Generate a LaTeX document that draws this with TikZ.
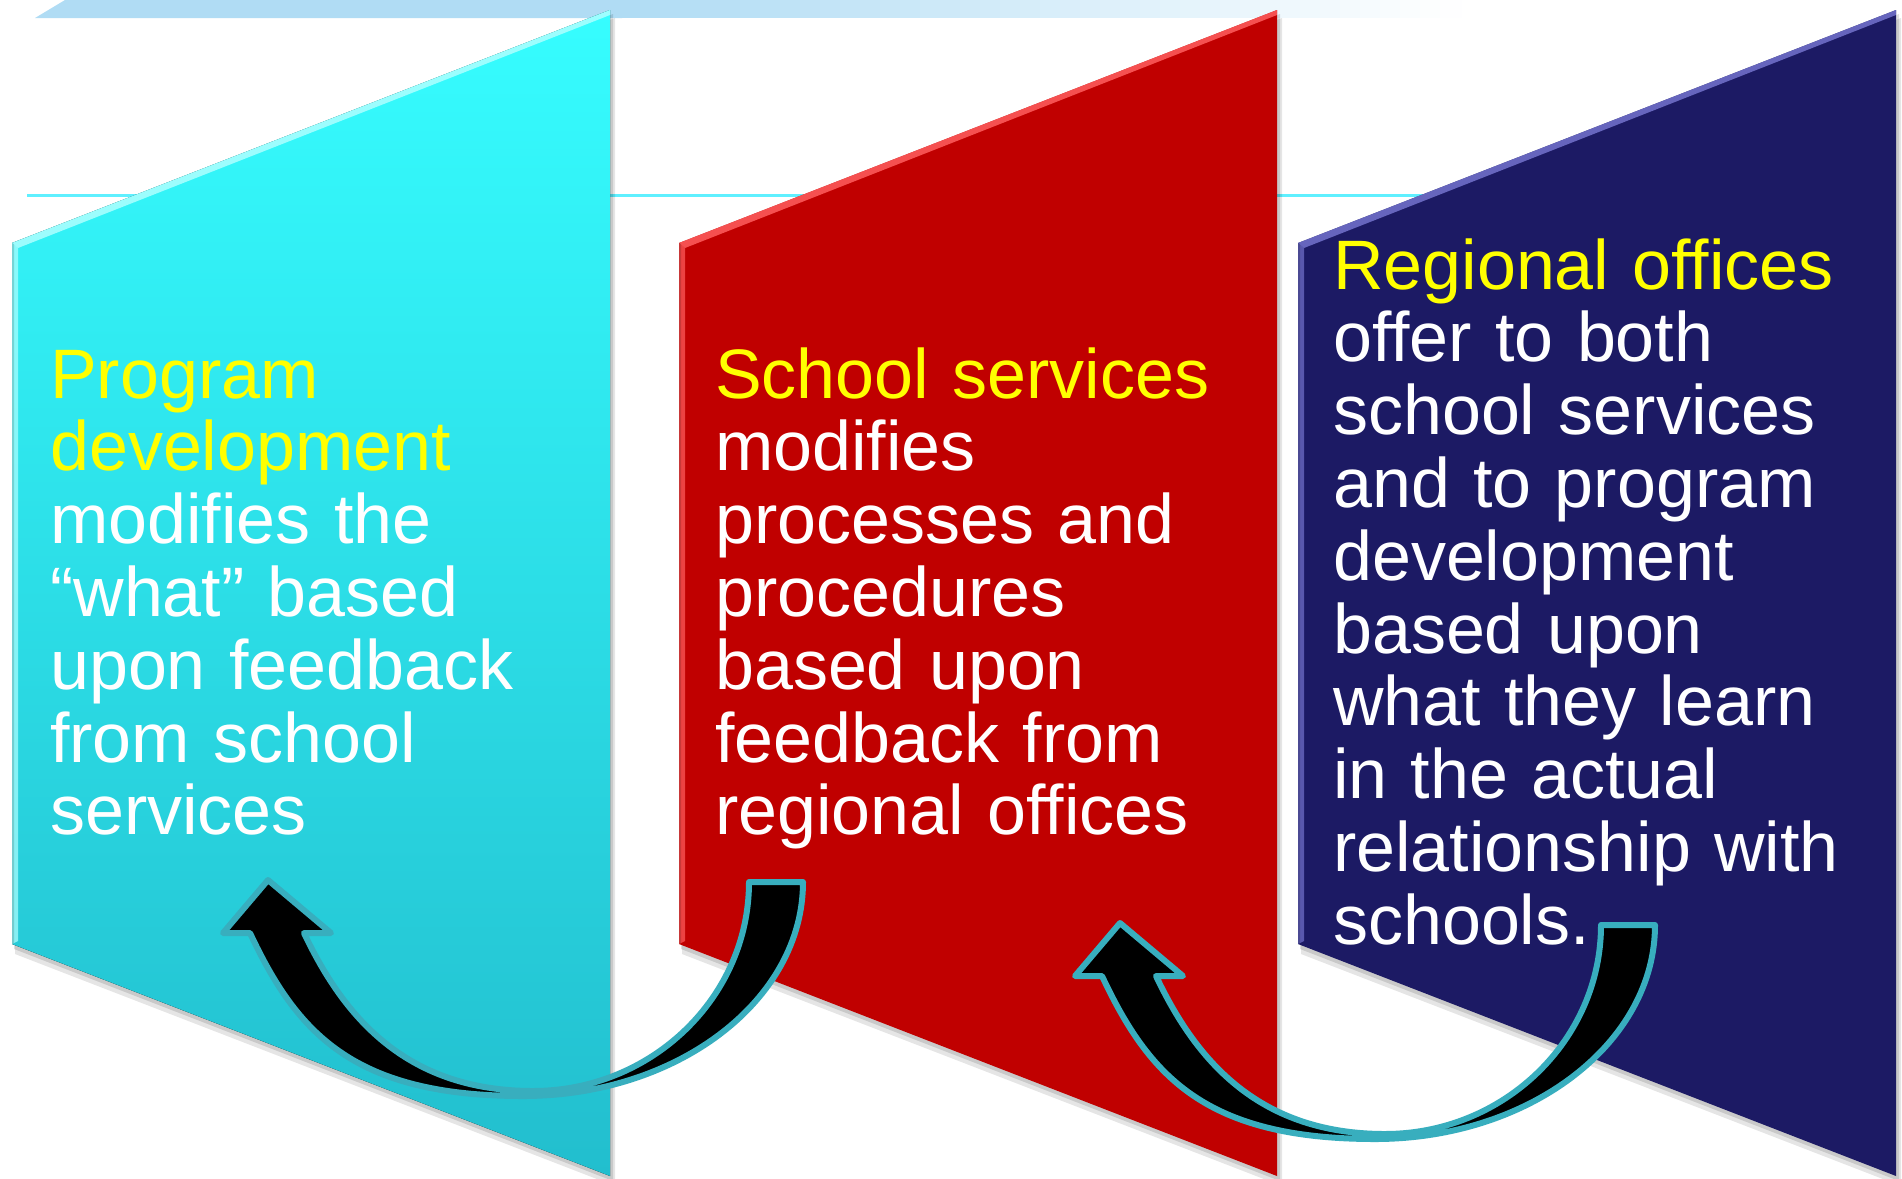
\documentclass[tikz,border=0pt]{standalone}
\usepackage{fontspec}
\setmainfont{Liberation Sans}[Ligatures=CommonOff]
\definecolor{cyantop}{RGB}{54,253,255}
\definecolor{cyanbot}{RGB}{34,190,206}
\definecolor{cyanhi}{RGB}{175,255,255}
\definecolor{redbase}{RGB}{192,0,0}
\definecolor{redhi}{RGB}{255,95,95}
\definecolor{navybase}{RGB}{28,26,100}
\definecolor{navyhi}{RGB}{115,115,205}
\definecolor{arrowline}{RGB}{56,174,190}
\definecolor{stripblue}{RGB}{176,220,244}
\definecolor{guideline}{RGB}{95,240,255}
\definecolor{headyellow}{RGB}{255,255,0}
\newcommand{\bevelpanel}[3]{%
  \begin{scope}[shift={(#1,0)}]
    \fill[black,opacity=0.10] (3,251) -- (603,18) -- (603,1186) -- (3,954) -- cycle;
    \fill[black,opacity=0.12] (2,247) -- (601,14) -- (601,1181) -- (2,949) -- cycle;
    \fill[#2] (0,243) -- (598,10) -- (598,1176) -- (0,944) -- cycle;
    \fill[#3,opacity=0.85] (0,243) -- (598,10) -- (598,15) -- (6,248) -- cycle;
    \fill[#3,opacity=0.7] (0,243) -- (6,248) -- (6,941) -- (0,944) -- cycle;
    \fill[black,opacity=0.15] (0,243) -- (2,244) -- (2,943) -- (0,944) -- cycle;
  \end{scope}}
\newcommand{\curvedarrow}[2]{%
  \begin{scope}[shift={#1}]
    \coordinate (#2tail) at (0,0);
    \coordinate (#2tip) at (-535,-2);
    \filldraw[blockarrow] (#2tail) .. controls (0,118) and (-125,214) .. (-280,214)
      .. controls (-450,214) and (-506,151) .. (-553,51)
      -- (-580,51) -- (#2tip) -- (-472,51) -- (-499,51)
      .. controls (-461,131) and (-400,209) .. (-270,209)
      .. controls (-151,209) and (-54,115) .. (-54,0) -- cycle;
  \end{scope}}
\begin{document}
\begin{tikzpicture}[x=1pt,y=-1pt,
  paneltext/.style={text=white, inner sep=0pt, align=left, text width=560pt,
    font=\fontsize{70}{72.8}\selectfont, anchor=base west},
  blockarrow/.style={fill=black, draw=arrowline, line width=6pt, line join=round}]
\useasboundingbox (0,0) rectangle (1902,1178);
\fill[white] (0,0) rectangle (1902,1178);
% top strip: solid part, then a fade made of solid slices
\fill[stripblue] (65,0) -- (622,0) -- (622,18) -- (35,18) -- cycle;
\foreach \i in {0,...,41} {
  \pgfmathsetmacro{\xa}{620+\i*20}
  \pgfmathsetmacro{\xb}{\xa+22}
  \pgfmathsetmacro{\pc}{100-\i*2.4}
  \fill[stripblue!\pc!white] (\xa,0) rectangle (\xb,18);
}
% guide line
\draw[guideline, line width=3pt] (27,195) -- (1500,195);
% panels
\bevelpanel{12}{top color=cyantop, bottom color=cyanbot}{cyanhi}
\bevelpanel{679}{redbase}{redhi}
\bevelpanel{1298}{navybase}{navyhi}
% texts
\node[paneltext] (progtext) at (50,398) {\textcolor{headyellow}{Program}\\
  \textcolor{headyellow}{development}\\ modifies the\\ “what” based\\ upon feedback\\ from school\\ services};
\node[paneltext] (schooltext) at (715,398) {\textcolor{headyellow}{School services}\\
  modifies\\ processes and\\ procedures\\ based upon\\ feedback from\\ regional offices};
\node[paneltext] (regiontext) at (1333,289) {\textcolor{headyellow}{Regional offices}\\
  offer to both\\ school services\\ and to program\\ development\\ based upon\\ what they learn\\ in the actual\\ relationship with\\ schools.};
% arrows
\curvedarrow{(803,882)}{a}
\curvedarrow{(1655,925)}{b}
\end{tikzpicture}
\end{document}
